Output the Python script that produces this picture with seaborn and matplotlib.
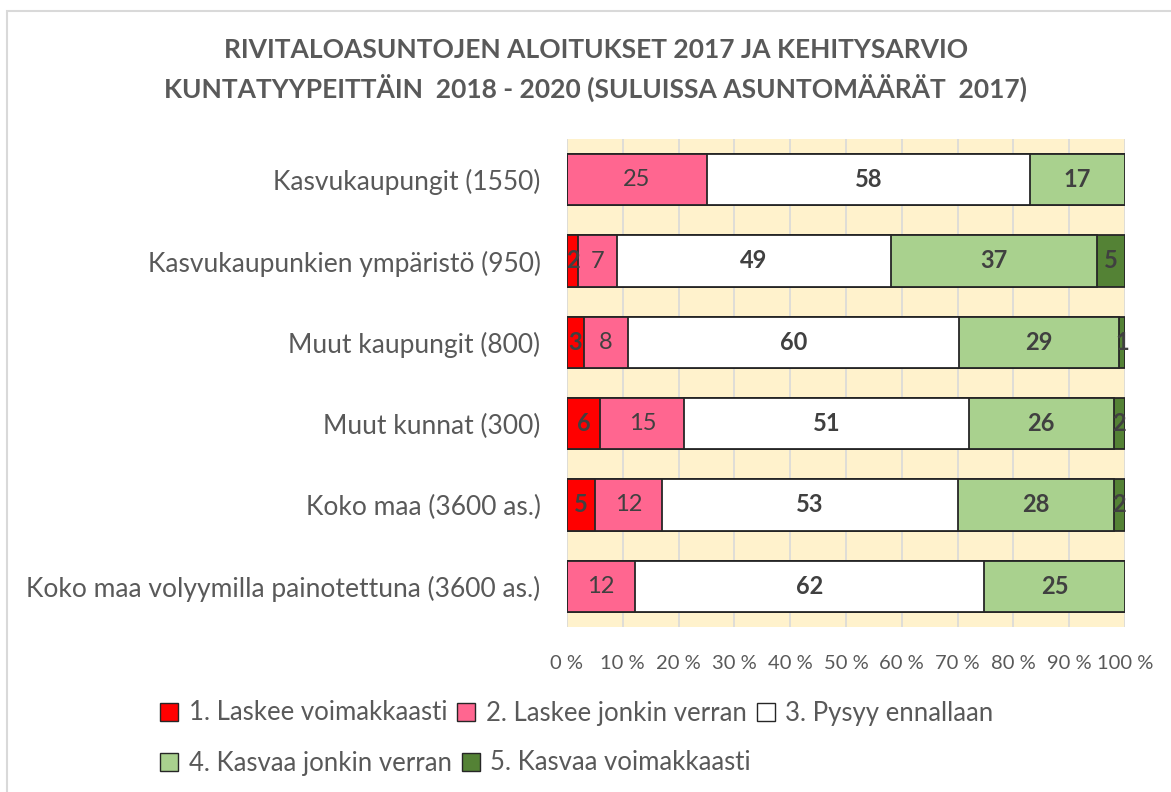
import numpy as np
import pandas as pd
import matplotlib
matplotlib.use("Agg")
import matplotlib.pyplot as plt
from matplotlib.patches import Patch, Rectangle
import seaborn as sns

sns.set_theme(style="white")
plt.rcParams["font.family"] = ["Lato", "DejaVu Sans"]

CATEGORIES = [
    "Kasvukaupungit (1550)",
    "Kasvukaupunkien ympäristö (950)",
    "Muut kaupungit (800)",
    "Muut kunnat (300)",
    "Koko maa (3600 as.)",
    "Koko maa volyymilla painotettuna (3600 as.)",
]
SERIES = [
    "1. Laskee voimakkaasti",
    "2. Laskee jonkin verran",
    "3. Pysyy ennallaan",
    "4. Kasvaa jonkin verran",
    "5. Kasvaa voimakkaasti",
]
laskee_paljon = [0, 2, 3, 6, 5, 0]
laskee_vahan = [25, 7, 8, 15, 12, 12]
ennallaan = [58, 49, 60, 51, 53, 62]
kasvaa_vahan = [17, 37, 29, 26, 28, 25]
kasvaa_paljon = [0, 5, 1, 2, 2, 0]

COLORS = ["#FF0000", "#FF6690", "#FFFFFF", "#A9D18E", "#548235"]
TXT = "#404040"
GREY = "#595959"

df = pd.DataFrame(
    np.array([laskee_paljon, laskee_vahan, ennallaan, kasvaa_vahan, kasvaa_paljon]).T,
    index=CATEGORIES, columns=SERIES,
)
# 100 % stacked, like the original
share = df.div(df.sum(axis=1), axis=0) * 100
cum = share.cumsum(axis=1)

fig = plt.figure(figsize=(11.71, 7.92), dpi=100)
ax = fig.add_axes([567 / 1171, 1 - 627 / 792, (1125 - 567) / 1171, (627 - 139) / 792])
ax.set_facecolor("#FFF2CC")

# draw from the full stack down so each segment sits on top of the next
for i in range(len(SERIES) - 1, -1, -1):
    sns.barplot(
        x=cum.iloc[:, i].values, y=CATEGORIES, orient="h", order=CATEGORIES,
        color=COLORS[i], saturation=1, width=0.63,
        edgecolor="#262626", linewidth=1.3, ax=ax, zorder=3,
    )

# value labels
for yi, cat in enumerate(CATEGORIES):
    for i, s in enumerate(SERIES):
        v = df.loc[cat, s]
        if v == 0:
            continue
        xc = cum.loc[cat, s] - share.loc[cat, s] / 2
        ax.text(xc, yi, f"{v}", ha="center", va="center", fontsize=17,
                color=TXT, fontweight="normal" if i == 1 else "bold", zorder=5)

ax.set_xlim(0, 100)
ax.set_ylim(5.5, -0.5)
ax.set_xticks(np.arange(0, 101, 10))
ax.set_xticklabels([f"{t} %" for t in range(0, 101, 10)])
ax.xaxis.grid(True, color="#D9D9D9", linewidth=1.2, zorder=0)
ax.set_axisbelow(True)
for sp in ax.spines.values():
    sp.set_visible(False)
ax.tick_params(axis="x", length=0, pad=20, labelsize=14.5, labelcolor=GREY)
ax.tick_params(axis="y", length=0, pad=19, labelsize=19, labelcolor=GREY)
ax.set_xlabel("")
ax.set_ylabel("")

fig.text(596 / 1171, 1 - 50 / 792, "RIVITALOASUNTOJEN ALOITUKSET 2017 JA KEHITYSARVIO",
         ha="center", va="center", fontsize=19, fontweight="bold", color=GREY)
fig.text(596 / 1171, 1 - 88 / 792, "KUNTATYYPEITTÄIN  2018 - 2020 (SULUISSA ASUNTOMÄÄRÄT  2017)",
         ha="center", va="center", fontsize=19, fontweight="bold", color=GREY)

handles = [Patch(facecolor=c, edgecolor="#262626", linewidth=1) for c in COLORS]
leg_kw = dict(frameon=False, fontsize=18.5, labelcolor=GREY, handlelength=0.7,
              handleheight=0.7, handletextpad=0.4, columnspacing=0.4, borderaxespad=0)
leg1 = fig.legend(handles[:3], SERIES[:3], ncol=3, loc="center left",
                  bbox_to_anchor=(150 / 1171, 1 - 713 / 792), **leg_kw)
leg2 = fig.legend(handles[3:], SERIES[3:], ncol=2, loc="center left",
                  bbox_to_anchor=(150 / 1171, 1 - 763 / 792), **leg_kw)

# chart area border
fig.patches.append(Rectangle((7 / 1171, -0.1), 1.2, 1 - 11 / 792 + 0.1,
                             transform=fig.transFigure, fill=False,
                             edgecolor="#D9D9D9", linewidth=1.5))

fig.savefig("out.png", dpi=100)
